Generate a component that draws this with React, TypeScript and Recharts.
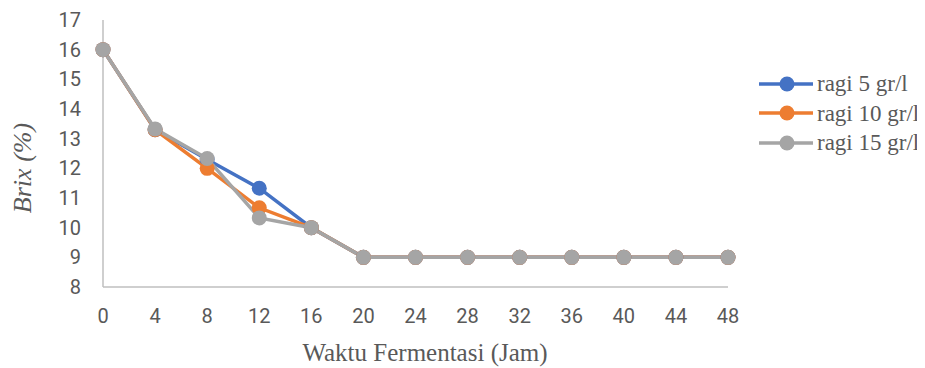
import { LineChart, Line, XAxis, YAxis } from 'recharts';

// jam fermentasi
const jam = [0, 4, 8, 12, 16, 20, 24, 28, 32, 36, 40, 44, 48];
const ragi5 = [16, 13.3, 12.3, 11.33, 10, 9, 9, 9, 9, 9, 9, 9, 9];
const ragi10 = [16, 13.3, 12, 10.67, 10, 9, 9, 9, 9, 9, 9, 9, 9];
const ragi15 = [16, 13.33, 12.33, 10.33, 10, 9, 9, 9, 9, 9, 9, 9, 9];
const yTicks = [8, 9, 10, 11, 12, 13, 14, 15, 16, 17];

const SERIES = [
  { key: 'r5', name: 'ragi 5 gr/l', color: '#4472C4', values: ragi5 },
  { key: 'r10', name: 'ragi 10 gr/l', color: '#ED7D31', values: ragi10 },
  { key: 'r15', name: 'ragi 15 gr/l', color: '#A5A5A5', values: ragi15 },
];

const data = jam.map((j, i) => {
  const row: any = { jam: j };
  SERIES.forEach((s) => {
    row[s.key] = s.values[i];
  });
  return row;
});

const tickStyle = { fill: '#595959', fontSize: 20, fontFamily: 'Roboto, sans-serif' };
const serif = '"Liberation Serif", "Times New Roman", serif';

export default function App() {
  return (
    <div style={{ position: 'relative', width: 925, height: 368, marginTop: -8, marginLeft: -8, background: '#fff' }}>
      <LineChart width={925} height={368} data={data} margin={{ top: 20, right: 197, bottom: 0, left: 0 }}>
        <XAxis
          dataKey="jam"
          type="number"
          domain={[0, 48]}
          ticks={jam}
          interval={0}
          height={81}
          tickLine={false}
          tickSize={0}
          tickMargin={22}
          tick={tickStyle}
          axisLine={{ stroke: '#BFBFBF', strokeWidth: 1.5 }}
          label={{
            content: () => (
              <text x={425} y={361} textAnchor="middle" fill="#595959" fontSize={25} fontFamily={serif}>
                Waktu Fermentasi (Jam)
              </text>
            ),
          }}
        />
        <YAxis
          domain={[8, 17]}
          ticks={yTicks}
          interval={0}
          width={103}
          tickLine={false}
          tickSize={0}
          tickMargin={22}
          tick={tickStyle}
          axisLine={{ stroke: '#BFBFBF', strokeWidth: 1.5 }}
          label={{
            content: () => (
              <text
                x={31}
                y={168}
                transform="rotate(-90 31 168)"
                textAnchor="middle"
                fill="#595959"
                fontSize={26}
                fontStyle="italic"
                fontFamily={serif}
              >
                Brix (%)
              </text>
            ),
          }}
        />
        {SERIES.map((s) => (
          <Line
            key={s.key}
            dataKey={s.key}
            name={s.name}
            stroke={s.color}
            strokeWidth={3.5}
            dot={{ r: 7.5, fill: s.color, stroke: s.color, strokeWidth: 0 }}
            activeDot={false}
            isAnimationActive={false}
          />
        ))}
      </LineChart>
      <div style={{ position: 'absolute', left: 758, top: 69, whiteSpace: 'nowrap' }}>
        {SERIES.map((s) => (
          <div key={s.key} style={{ display: 'flex', alignItems: 'center', height: 29.5 }}>
            <svg width={56} height={20}>
              <line x1={1} y1={10} x2={55} y2={10} stroke={s.color} strokeWidth={3.5} />
              <circle cx={29} cy={10} r={7.5} fill={s.color} />
            </svg>
            <span style={{ fontFamily: serif, fontSize: 23, color: '#595959', marginLeft: 3, lineHeight: 1 }}>
              {s.name}
            </span>
          </div>
        ))}
      </div>
    </div>
  );
}
